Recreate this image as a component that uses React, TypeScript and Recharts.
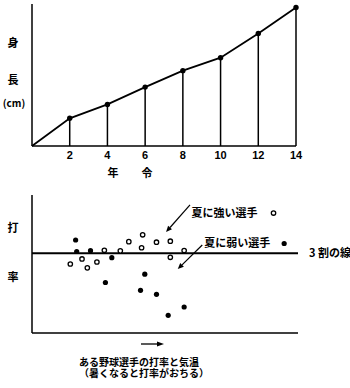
import React from 'react';
import {
  ComposedChart,
  Line,
  XAxis,
  YAxis,
  ReferenceLine,
  ReferenceDot,
  ScatterChart,
  Scatter,
} from 'recharts';

// ---- Top chart: height vs age ----
const ages = [0, 2, 4, 6, 8, 10, 12, 14];
const heights = [0, 32, 48, 68, 87, 102, 130, 160];
const ageTicks = [2, 4, 6, 8, 10, 12, 14];

// ---- Bottom chart: batting average vs temperature ----
const strongTemps = [18.6, 19.7, 20.2, 21.1, 21.8, 23.3, 24.1, 25.4, 25.3, 26.7, 28.0, 28.0, 29.3];
const strongAvgs = [0.2865, 0.2928, 0.2817, 0.289, 0.3037, 0.303, 0.3145, 0.3231, 0.3069, 0.3138, 0.3151, 0.2949, 0.3034];
const weakTemps = [19.1, 19.2, 20.5, 22.5, 21.9, 25.6, 25.2, 26.7, 27.8, 29.3];
const weakAvgs = [0.3166, 0.3022, 0.3032, 0.2944, 0.2633, 0.2737, 0.2535, 0.2485, 0.2222, 0.2326];
const threeWari = 0.3;

// annotations (data coordinates)
const annotationLabels = ['夏に強い選手', '夏に弱い選手'];
const annotationTextT = [30.0, 31.2];
const annotationTextV = [0.3504, 0.3122];
const annotationMarkT = [37.7, 38.7];
const arrowFromT = [29.85, 31.0];
const arrowFromV = [0.3605, 0.3103];
const arrowToT = [27.6, 28.7];
const arrowToV = [0.3266, 0.2802];

const captionLines = ['ある野球選手の打率と気温', '（暑くなると打率がおちる）'];

const growth = ages.map((a, i) => ({ age: a, height: heights[i] }));
const strong = strongTemps.map((t, i) => ({ t, v: strongAvgs[i] }));
const weak = weakTemps.map((t, i) => ({ t, v: weakAvgs[i] }));

const CJK = '"Noto Sans CJK JP", "Noto Sans", sans-serif';

const GrowthDot = (p: any) => {
  if (p.index === 0) return <g key={`d${p.index}`} />;
  return <circle key={`d${p.index}`} cx={p.cx} cy={p.cy} r={2.7} fill="#000" />;
};

const OpenCircle = (p: any) => (
  <circle cx={p.cx} cy={p.cy} r={2.2} fill="#fff" stroke="#000" strokeWidth={1.3} />
);
const FilledCircle = (p: any) => <circle cx={p.cx} cy={p.cy} r={2.6} fill="#000" />;

const Arrow = (p: any) => {
  const { x1, y1, x2, y2 } = p;
  const ang = Math.atan2(y2 - y1, x2 - x1);
  const L = 6;
  const W = 2.6;
  const bx = x2 - L * Math.cos(ang);
  const by = y2 - L * Math.sin(ang);
  const px = -Math.sin(ang) * W;
  const py = Math.cos(ang) * W;
  return (
    <g>
      <line x1={x1} y1={y1} x2={bx} y2={by} stroke="#000" strokeWidth={1.2} />
      <polygon points={`${x2},${y2} ${bx + px},${by + py} ${bx - px},${by - py}`} fill="#000" />
    </g>
  );
};

const makeTextShape = (label: string) => (p: any) => (
  <text
    x={p.cx}
    y={p.cy}
    dy="0.35em"
    fontSize={11}
    fontWeight="bold"
    fontFamily={CJK}
    fill="#000"
    textAnchor="start"
  >
    {label}
  </text>
);

const lbl = (text: string, x: number, y: number, size = 11): React.ReactElement => (
  <div
    key={`${text}${x}${y}`}
    style={{
      position: 'absolute',
      left: x,
      top: y,
      transform: 'translate(-50%, -50%)',
      fontFamily: CJK,
      fontWeight: 'bold',
      fontSize: size,
      lineHeight: 1,
      whiteSpace: 'nowrap',
      color: '#000',
    }}
  >
    {text}
  </div>
);

export default function App() {
  return (
    <div style={{ position: 'absolute', left: 0, top: 0, width: 350, height: 388, background: '#fff' }}>
      <div style={{ position: 'absolute', left: 0, top: 0 }}>
        <ComposedChart width={350} height={180} data={growth} margin={{ top: 4, right: 54, bottom: 4, left: 0 }}>
          <XAxis
            dataKey="age"
            type="number"
            domain={[0, 14]}
            ticks={ageTicks}
            interval={0}
            tickLine={false}
            tickSize={0}
            tickMargin={5}
            height={30}
            axisLine={{ stroke: '#000', strokeWidth: 1.5 }}
            tick={{ fill: '#000', fontSize: 11, fontWeight: 'bold', fontFamily: 'Liberation Sans' }}
          />
          <YAxis
            type="number"
            domain={[0, 164]}
            width={32}
            tick={false}
            tickLine={false}
            axisLine={{ stroke: '#000', strokeWidth: 1.5 }}
          />
          {ages.map((a, i) =>
            i > 0 ? (
              <ReferenceLine
                key={`v${i}`}
                segment={[
                  { x: a, y: 0 },
                  { x: a, y: heights[i] },
                ]}
                stroke="#000"
                strokeWidth={1.5}
              />
            ) : null
          )}
          <Line
            dataKey="height"
            stroke="#000"
            strokeWidth={1.8}
            dot={GrowthDot}
            activeDot={false}
            isAnimationActive={false}
          />
        </ComposedChart>
      </div>

      <div style={{ position: 'absolute', left: 0, top: 180 }}>
        <ScatterChart width={350} height={208} margin={{ top: 15, right: 52, bottom: 25, left: 0 }}>
          <XAxis
            type="number"
            dataKey="t"
            domain={[15, 40]}
            tick={false}
            tickLine={false}
            height={30}
            axisLine={{ stroke: '#000', strokeWidth: 1.5 }}
          />
          <YAxis
            type="number"
            dataKey="v"
            domain={[0.2, 0.373]}
            tick={false}
            tickLine={false}
            width={32}
            axisLine={{ stroke: '#000', strokeWidth: 1.5 }}
          />
          <ReferenceLine
            y={threeWari}
            stroke="#000"
            strokeWidth={2}
            label={{
              value: '3 割の線',
              position: 'right',
              offset: 11,
              fill: '#000',
              fontSize: 11,
              fontWeight: 'bold',
              fontFamily: CJK,
            }}
          />
          <Scatter data={strong} shape={OpenCircle} isAnimationActive={false} />
          <Scatter data={weak} shape={FilledCircle} isAnimationActive={false} />
          {annotationLabels.map((l, i) => (
            <ReferenceLine
              key={`a${i}`}
              segment={[
                { x: arrowFromT[i], y: arrowFromV[i] },
                { x: arrowToT[i], y: arrowToV[i] },
              ]}
              shape={Arrow}
            />
          ))}
          {annotationLabels.map((l, i) => (
            <ReferenceDot
              key={`t${i}`}
              x={annotationTextT[i]}
              y={annotationTextV[i]}
              shape={makeTextShape(l)}
            />
          ))}
          <ReferenceDot x={annotationMarkT[0]} y={annotationTextV[0]} shape={OpenCircle} />
          <ReferenceDot x={annotationMarkT[1]} y={annotationTextV[1]} shape={FilledCircle} />
        </ScatterChart>
      </div>

      {/* axis titles */}
      {lbl('身', 13, 42)}
      {lbl('長', 13, 79)}
      {lbl('(cm)', 14, 103, 10)}
      {lbl('年', 113, 172)}
      {lbl('令', 147, 172)}
      {lbl('打', 13, 227)}
      {lbl('率', 13, 276)}

      {/* direction arrow under the x axis */}
      <svg style={{ position: 'absolute', left: 0, top: 0, pointerEvents: 'none' }} width={350} height={388}>
        <line x1={141} y1={344} x2={158} y2={344} stroke="#000" strokeWidth={1.3} />
        <polygon points="164,344 157,341.5 157,346.5" fill="#000" />
      </svg>

      {/* caption */}
      <div
        style={{
          position: 'absolute',
          left: 144,
          top: 367,
          transform: 'translate(-50%, -50%)',
          fontFamily: CJK,
          fontWeight: 'bold',
          fontSize: 10,
          lineHeight: '11px',
          whiteSpace: 'nowrap',
          color: '#000',
          textAlign: 'left',
        }}
      >
        {captionLines[0]}
        <br />
        {captionLines[1]}
      </div>
    </div>
  );
}
